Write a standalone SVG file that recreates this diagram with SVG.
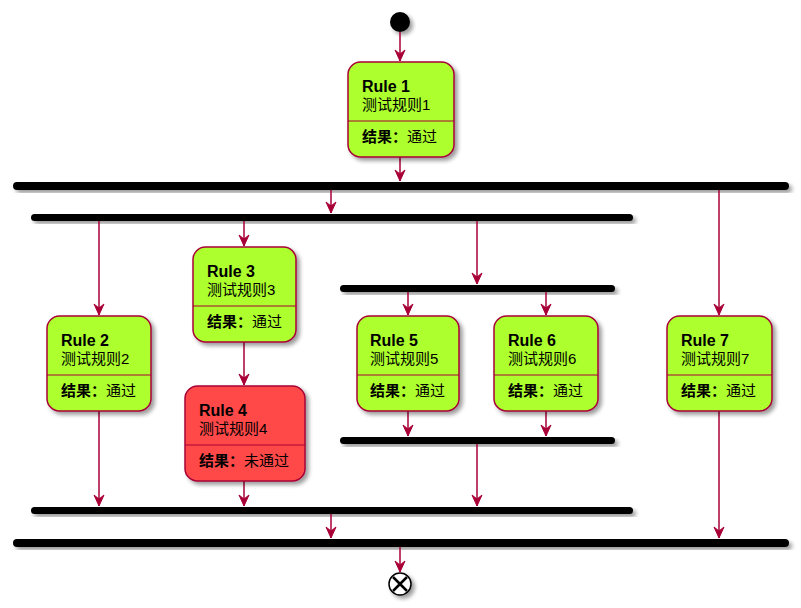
<svg xmlns="http://www.w3.org/2000/svg" width="801" height="608" viewBox="0 0 801 608">
  <defs>
    <filter id="shadow" x="-20%" y="-20%" width="150%" height="150%">
      <feGaussianBlur in="SourceAlpha" stdDeviation="2"/>
      <feOffset dx="3" dy="3" result="b"/>
      <feComponentTransfer><feFuncA type="linear" slope="0.4"/></feComponentTransfer>
      <feMerge><feMergeNode/><feMergeNode in="SourceGraphic"/></feMerge>
    </filter>
    <!-- open-notched arrowhead, tip at the line end -->
    <marker id="arrow" viewBox="0 0 13 12" refX="12" refY="6" markerWidth="13" markerHeight="12" markerUnits="userSpaceOnUse" orient="auto">
      <path d="M1,1 L12,6 L1,11 L5,6 Z" fill="#A80036" stroke="#A80036" stroke-width="1"/>
    </marker>
  </defs>
  <style>
    .act { stroke: #A80036; stroke-width: 1.5; filter: url(#shadow); }
    .pass { fill: #ADFF2F; }
    .fail { fill: #FF4848; }
    .div { stroke: #A80036; stroke-width: 1; }
    .bar { fill: #000000; filter: url(#shadow); }
    .title { font-family: "Liberation Sans", Arial, sans-serif; font-weight: bold; font-size: 16px; fill: #000; }
    .sub { font-family: "Liberation Sans", "Noto Sans CJK SC", sans-serif; font-size: 15px; fill: #000; }
    .res { font-family: "Liberation Sans", "Noto Sans CJK SC", sans-serif; font-size: 15px; fill: #000; }
    .res tspan.k { font-weight: bold; }
    .edge { stroke: #A80036; stroke-width: 1.5; fill: none; marker-end: url(#arrow); }
  </style>

  <rect width="801" height="608" fill="#FFFFFF"/>

  <!-- start / end -->
  <g id="start"><circle cx="400" cy="22" r="10" fill="#000" filter="url(#shadow)"/></g>
  <g id="end" filter="url(#shadow)">
    <circle cx="400" cy="584" r="11" fill="#FFFFFF" stroke="#000" stroke-width="1.5"/>
    <path d="M393,577 L407,591 M407,577 L393,591" stroke="#000" stroke-width="2.5"/>
  </g>

  <!-- fork / join bars -->
  <g id="fork1"><rect class="bar" x="13" y="182" width="776" height="8" rx="4"/></g>
  <g id="fork2"><rect class="bar" x="31" y="214" width="602" height="7" rx="3.5"/></g>
  <g id="fork3"><rect class="bar" x="340" y="285" width="275" height="7" rx="3.5"/></g>
  <g id="join3"><rect class="bar" x="340" y="437" width="275" height="7" rx="3.5"/></g>
  <g id="join2"><rect class="bar" x="31" y="507" width="602" height="7" rx="3.5"/></g>
  <g id="join1"><rect class="bar" x="13" y="539" width="776" height="8" rx="4"/></g>

  <!-- connectors -->
  <g id="edges">
    <line class="edge" x1="400" y1="32" x2="400" y2="61"/>
    <line class="edge" x1="400" y1="157" x2="400" y2="181"/>
    <line class="edge" x1="331" y1="190" x2="331" y2="213"/>
    <line class="edge" x1="719" y1="190" x2="719" y2="315"/>
    <line class="edge" x1="99" y1="221" x2="99" y2="315"/>
    <line class="edge" x1="244" y1="221" x2="244" y2="246"/>
    <line class="edge" x1="477" y1="221" x2="477" y2="284"/>
    <line class="edge" x1="408" y1="292" x2="408" y2="315"/>
    <line class="edge" x1="546" y1="292" x2="546" y2="315"/>
    <line class="edge" x1="244" y1="342" x2="244" y2="385"/>
    <line class="edge" x1="408" y1="411" x2="408" y2="436"/>
    <line class="edge" x1="546" y1="411" x2="546" y2="436"/>
    <line class="edge" x1="99" y1="411" x2="99" y2="506"/>
    <line class="edge" x1="244" y1="481" x2="244" y2="506"/>
    <line class="edge" x1="477" y1="444" x2="477" y2="506"/>
    <line class="edge" x1="331" y1="514" x2="331" y2="538"/>
    <line class="edge" x1="719" y1="411" x2="719" y2="538"/>
    <line class="edge" x1="400" y1="547" x2="400" y2="572"/>
  </g>

  <!-- activities -->
  <g id="rule1">
    <rect class="act pass" x="348" y="62" width="106" height="95" rx="12.5"/>
    <line class="div" x1="348" y1="121" x2="454" y2="121"/>
    <text class="title" x="362" y="92">Rule 1</text>
    <text class="sub" x="362" y="110">测试规则1</text>
    <text class="res" x="362" y="142"><tspan class="k">结果：</tspan>通过</text>
  </g>
  <g id="rule2">
    <rect class="act pass" x="47" y="316" width="104" height="95" rx="12.5"/>
    <line class="div" x1="47" y1="375" x2="151" y2="375"/>
    <text class="title" x="61" y="346">Rule 2</text>
    <text class="sub" x="61" y="364">测试规则2</text>
    <text class="res" x="61" y="396"><tspan class="k">结果：</tspan>通过</text>
  </g>
  <g id="rule3">
    <rect class="act pass" x="193" y="247" width="103" height="95" rx="12.5"/>
    <line class="div" x1="193" y1="306" x2="296" y2="306"/>
    <text class="title" x="207" y="277">Rule 3</text>
    <text class="sub" x="207" y="295">测试规则3</text>
    <text class="res" x="207" y="327"><tspan class="k">结果：</tspan>通过</text>
  </g>
  <g id="rule4">
    <rect class="act fail" x="185" y="386" width="120" height="95" rx="12.5"/>
    <line class="div" x1="185" y1="445" x2="305" y2="445"/>
    <text class="title" x="199" y="416">Rule 4</text>
    <text class="sub" x="199" y="434">测试规则4</text>
    <text class="res" x="199" y="466"><tspan class="k">结果：</tspan>未通过</text>
  </g>
  <g id="rule5">
    <rect class="act pass" x="357" y="316" width="102" height="95" rx="12.5"/>
    <line class="div" x1="357" y1="375" x2="459" y2="375"/>
    <text class="title" x="370" y="346">Rule 5</text>
    <text class="sub" x="370" y="364">测试规则5</text>
    <text class="res" x="370" y="396"><tspan class="k">结果：</tspan>通过</text>
  </g>
  <g id="rule6">
    <rect class="act pass" x="494" y="316" width="104" height="95" rx="12.5"/>
    <line class="div" x1="494" y1="375" x2="598" y2="375"/>
    <text class="title" x="508" y="346">Rule 6</text>
    <text class="sub" x="508" y="364">测试规则6</text>
    <text class="res" x="508" y="396"><tspan class="k">结果：</tspan>通过</text>
  </g>
  <g id="rule7">
    <rect class="act pass" x="667" y="316" width="105" height="95" rx="12.5"/>
    <line class="div" x1="667" y1="375" x2="772" y2="375"/>
    <text class="title" x="681" y="346">Rule 7</text>
    <text class="sub" x="681" y="364">测试规则7</text>
    <text class="res" x="681" y="396"><tspan class="k">结果：</tspan>通过</text>
  </g>
</svg>
